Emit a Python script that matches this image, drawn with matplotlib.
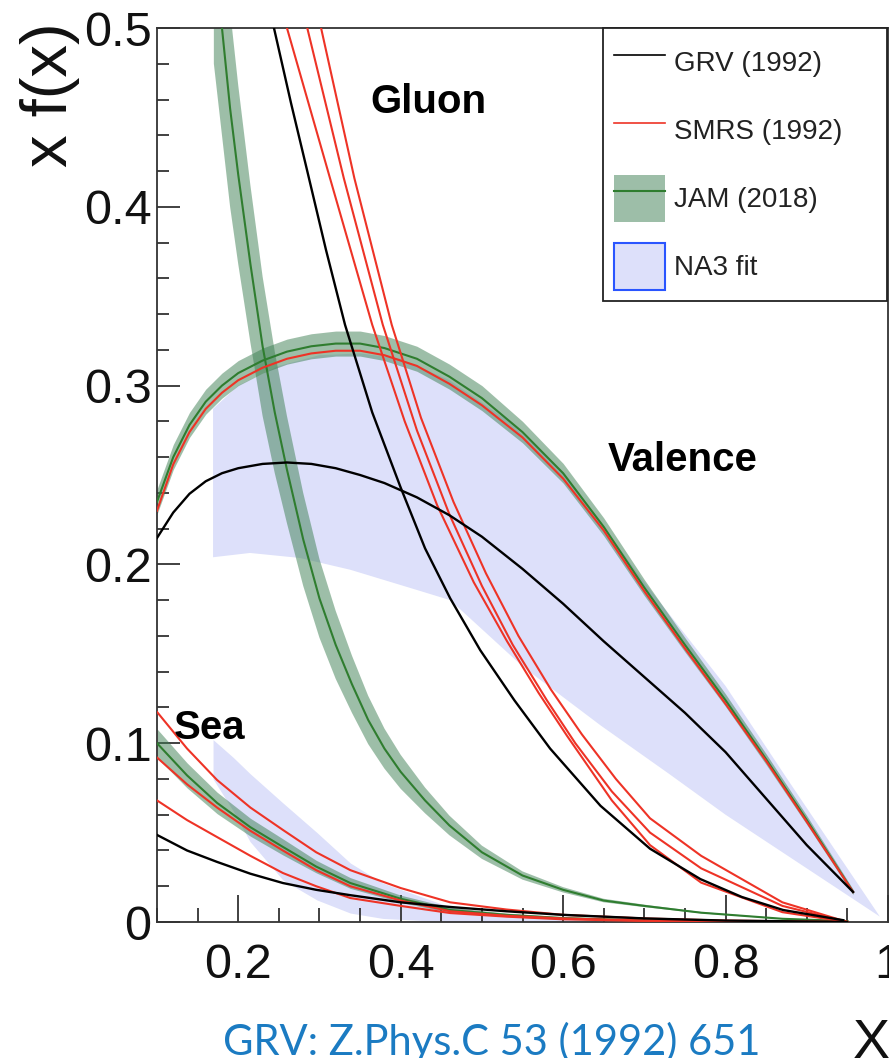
import numpy as np
import matplotlib
matplotlib.use("Agg")
import matplotlib.pyplot as plt
from matplotlib.lines import Line2D
from matplotlib.patches import Patch
from matplotlib.ticker import MultipleLocator, FixedLocator

plt.rcParams["font.family"] = ["Liberation Sans", "DejaVu Sans"]

# ── GRV (1992) ───────────────────────────────────────────────────────────────
grv_glu_x = [0.244, 0.265, 0.285, 0.308, 0.3315, 0.365, 0.400, 0.430, 0.461, 0.498, 0.540, 0.584, 0.646, 0.707, 0.769, 0.820, 0.871, 0.945]
grv_glu_y = [0.500, 0.458, 0.420, 0.376, 0.334, 0.285, 0.243, 0.209, 0.181, 0.152, 0.124, 0.097, 0.065, 0.041, 0.024, 0.014, 0.0067, 0.001]

val_x = [0.10, 0.12, 0.14, 0.16, 0.18, 0.20, 0.23, 0.26, 0.29, 0.32, 0.35, 0.38,
         0.42, 0.46, 0.50, 0.55, 0.60, 0.65, 0.70, 0.75, 0.80, 0.85, 0.90, 0.957]
grv_val_y = [0.2148, 0.229, 0.2395, 0.2465, 0.251, 0.2538, 0.2562, 0.2570, 0.2562, 0.2538, 0.2500, 0.2455,
             0.2375, 0.2275, 0.2155, 0.1975, 0.178, 0.157, 0.137, 0.117, 0.095, 0.069, 0.043, 0.0168]

sea_x = [0.100, 0.137, 0.174, 0.215, 0.255, 0.296, 0.338, 0.400, 0.461, 0.530, 0.600, 0.700, 0.800, 0.950]
grv_sea_y = [0.0487, 0.040, 0.0336, 0.027, 0.0218, 0.018, 0.015, 0.011, 0.0084, 0.006, 0.004, 0.002, 0.0008, 0.0]

# ── SMRS (1992): three gluon sets, valence, three sea sets ───────────────────
smrs_glu1_x = [0.260, 0.313, 0.365, 0.405, 0.445, 0.490, 0.531, 0.570, 0.605, 0.660, 0.707, 0.770, 0.870, 0.950]
smrs_glu1_y = [0.500, 0.416, 0.334, 0.280, 0.233, 0.190, 0.157, 0.128, 0.104, 0.068, 0.043, 0.022, 0.0055, 0.0]
smrs_glu2_x = [0.285, 0.330, 0.378, 0.420, 0.460, 0.500, 0.538, 0.580, 0.615, 0.660, 0.707, 0.770, 0.870, 0.950]
smrs_glu2_y = [0.500, 0.416, 0.334, 0.275, 0.228, 0.188, 0.155, 0.124, 0.100, 0.073, 0.050, 0.030, 0.009, 0.0]
smrs_glu3_x = [0.302, 0.343, 0.389, 0.425, 0.465, 0.505, 0.545, 0.585, 0.623, 0.665, 0.707, 0.770, 0.870, 0.950]
smrs_glu3_y = [0.500, 0.416, 0.334, 0.282, 0.235, 0.195, 0.160, 0.130, 0.105, 0.080, 0.058, 0.037, 0.011, 0.0]

smrs_val_y = [0.230, 0.256, 0.274, 0.287, 0.296, 0.303, 0.310, 0.315, 0.318, 0.3195, 0.3195, 0.317,
              0.311, 0.301, 0.289, 0.271, 0.248, 0.219, 0.185, 0.153, 0.122, 0.090, 0.056, 0.0168]

smrs_sea1_y = [0.1175, 0.097, 0.0794, 0.064, 0.0515, 0.039, 0.029, 0.019, 0.011, 0.007, 0.004, 0.002, 0.0008, 0.0]
smrs_sea2_y = [0.092, 0.077, 0.064, 0.051, 0.040, 0.029, 0.020, 0.012, 0.006, 0.0035, 0.002, 0.0008, 0.0003, 0.0]
smrs_sea3_y = [0.068, 0.057, 0.0475, 0.037, 0.0274, 0.020, 0.0134, 0.009, 0.005, 0.003, 0.0015, 0.0006, 0.0002, 0.0]

# ── JAM (2018): central value and band half-width ────────────────────────────
jam_glu_x = [0.170, 0.180, 0.190, 0.200, 0.215, 0.230, 0.245, 0.260, 0.280, 0.300, 0.320, 0.340, 0.360,
             0.380, 0.400, 0.430, 0.460, 0.500, 0.550, 0.600, 0.650, 0.700, 0.770, 0.870, 0.950]
jam_glu_y = [0.545, 0.500, 0.455, 0.418, 0.368, 0.322, 0.285, 0.253, 0.214, 0.181, 0.155, 0.133, 0.113,
             0.097, 0.084, 0.068, 0.054, 0.039, 0.026, 0.018, 0.012, 0.009, 0.0052, 0.0018, 0.0005]
jam_glu_err = [0.065, 0.060, 0.055, 0.050, 0.044, 0.039, 0.034, 0.030, 0.026, 0.022, 0.019, 0.016, 0.0135,
               0.0112, 0.0095, 0.0072, 0.0055, 0.0037, 0.0023, 0.0015, 0.001, 0.0007, 0.0004, 0.0002, 0.0001]

jam_val_y = [0.235, 0.260, 0.278, 0.291, 0.300, 0.307, 0.314, 0.319, 0.322, 0.3235, 0.3235, 0.321,
             0.315, 0.305, 0.293, 0.274, 0.251, 0.221, 0.187, 0.155, 0.124, 0.091, 0.057, 0.0168]
jam_val_err = [0.007, 0.007, 0.007, 0.007, 0.007, 0.007, 0.007, 0.007, 0.007, 0.007, 0.007, 0.007,
               0.007, 0.007, 0.007, 0.006, 0.0055, 0.005, 0.0045, 0.004, 0.0035, 0.003, 0.0025, 0.0015]

jam_sea_y = [0.100, 0.082, 0.0666, 0.053, 0.042, 0.031, 0.0218, 0.013, 0.0067, 0.0040, 0.0022, 0.0009, 0.0003, 0.0]
jam_sea_err = [0.008, 0.007, 0.006, 0.005, 0.0045, 0.0035, 0.003, 0.002, 0.0015, 0.001, 0.0007, 0.0004, 0.0002, 0.0]

# ── NA3 fit bands ────────────────────────────────────────────────────────────
na3_val_up_x = [0.169, 0.200, 0.250, 0.300, 0.350, 0.400, 0.460, 0.530, 0.600, 0.700, 0.800, 0.876, 0.950, 0.990]
na3_val_up_y = [0.287, 0.300, 0.311, 0.317, 0.318, 0.315, 0.303, 0.281, 0.252, 0.190, 0.132, 0.080, 0.030, 0.003]
na3_val_lo_x = [0.169, 0.2145, 0.276, 0.338, 0.420, 0.461, 0.551, 0.646, 0.730, 0.800, 0.900, 0.990]
na3_val_lo_y = [0.204, 0.2064, 0.2036, 0.197, 0.1857, 0.180, 0.1426, 0.110, 0.083, 0.060, 0.030, 0.003]

na3_sea_x = [0.169, 0.194, 0.2145, 0.255, 0.297, 0.338, 0.378, 0.461, 0.550, 0.650]
na3_sea_up = [0.102, 0.092, 0.083, 0.0666, 0.050, 0.033, 0.0218, 0.0084, 0.003, 0.0005]
na3_sea_lo = [0.080, 0.062, 0.045, 0.0235, 0.0123, 0.005, 0.002, 0.0, 0.0, 0.0]

# ── Styles ───────────────────────────────────────────────────────────────────
C_BLACK = "black"
C_RED = "#ee3326"
C_GREEN = "#2f7d2f"
C_BAND = "#3d7f52"
BAND_ALPHA = 0.5
C_NA3 = "#dde0fa"
C_NA3_EDGE = "#2a55ff"

fig = plt.figure(figsize=(8.89, 10.58), dpi=100)
ax = fig.add_axes([157 / 889, 136 / 1058, 731 / 889, 894 / 1058])

# NA3 bands
ax.fill(np.r_[na3_val_up_x, na3_val_lo_x[::-1]],
        np.r_[na3_val_up_y, na3_val_lo_y[::-1]],
        color=C_NA3, lw=0, zorder=1)
ax.fill_between(na3_sea_x, na3_sea_lo, na3_sea_up, color=C_NA3, lw=0, zorder=1)

# JAM bands
for bx, by, be in [(jam_glu_x, jam_glu_y, jam_glu_err),
                   (val_x, jam_val_y, jam_val_err),
                   (sea_x, jam_sea_y, jam_sea_err)]:
    by, be = np.asarray(by), np.asarray(be)
    ax.fill_between(bx, by - be, by + be, color=C_BAND, alpha=BAND_ALPHA, lw=0, zorder=2)

# central lines
lw = 1.5
for lx, ly in [(jam_glu_x, jam_glu_y), (val_x, jam_val_y), (sea_x, jam_sea_y)]:
    ax.plot(lx, ly, color=C_GREEN, lw=lw, zorder=3)
for lx, ly in [(smrs_glu1_x, smrs_glu1_y), (smrs_glu2_x, smrs_glu2_y),
               (smrs_glu3_x, smrs_glu3_y), (val_x, smrs_val_y),
               (sea_x, smrs_sea1_y), (sea_x, smrs_sea2_y), (sea_x, smrs_sea3_y)]:
    ax.plot(lx, ly, color=C_RED, lw=lw, zorder=4)
for lx, ly in [(grv_glu_x, grv_glu_y), (val_x, grv_val_y), (sea_x, grv_sea_y)]:
    ax.plot(lx, ly, color=C_BLACK, lw=1.7, zorder=5)

# labels on the curves
lab_kw = dict(fontsize=29, fontweight="bold", ha="center", va="center", zorder=6)
ax.text(0.434, 0.4586, "Gluon", **lab_kw)
ax.text(0.7466, 0.2584, "Valence", **lab_kw)
ax.text(0.165, 0.1085, "Sea", **lab_kw)

# axes
ax.set_xlim(0.1, 1.0)
ax.set_ylim(0, 0.5)
ax.xaxis.set_major_locator(FixedLocator([0.2, 0.4, 0.6, 0.8, 1.0]))
ax.set_xticklabels(["0.2", "0.4", "0.6", "0.8", "1"])
ax.xaxis.set_minor_locator(MultipleLocator(0.05))
ax.yaxis.set_major_locator(FixedLocator([0, 0.1, 0.2, 0.3, 0.4, 0.5]))
ax.set_yticklabels(["0", "0.1", "0.2", "0.3", "0.4", "0.5"])
ax.yaxis.set_minor_locator(MultipleLocator(0.02))
ax.tick_params(axis="both", which="both", direction="in", color="#333333",
               width=1.3, top=False, right=False, labelsize=35, labelcolor="#111111")
ax.tick_params(axis="x", which="major", length=19.5, pad=15)
ax.tick_params(axis="x", which="minor", length=10)
ax.tick_params(axis="y", which="major", length=16.5, pad=4)
ax.tick_params(axis="y", which="minor", length=8.6)
for sp in ax.spines.values():
    sp.set_color("#333333")
    sp.set_linewidth(1.3)

fig.text(50 / 889, 1 - 22 / 1058, "x f(x)", rotation=90, ha="center", va="top",
         fontsize=47, color="#111111")
fig.text(853 / 889, 1 - 1018 / 1058, "X", ha="left", va="top", fontsize=40,
         color="#111111")
fig.text(492 / 889, 3 / 1058, "GRV: Z.Phys.C 53 (1992) 651", ha="center",
         va="baseline", fontsize=30, color="#1b7bc2", family=["Lato", "DejaVu Sans"])

# legend
handles = [
    Line2D([], [], color=C_BLACK, lw=1.2),
    Line2D([], [], color=C_RED, lw=1.2),
    (Patch(facecolor=C_BAND, alpha=BAND_ALPHA, lw=0), Line2D([], [], color=C_GREEN, lw=1.5)),
    Patch(facecolor=C_NA3, edgecolor=C_NA3_EDGE, lw=1.5),
]
labels = ["GRV (1992)", "SMRS (1992)", "JAM (2018)", "NA3 fit"]
leg = ax.legend(handles, labels, loc="upper right",
                bbox_to_anchor=(446 / 731, 0.0, 284 / 731, 1.0), mode="expand",
                borderaxespad=0, fontsize=20, handlelength=1.83, handleheight=2.24,
                handletextpad=0.32, labelspacing=0.74, borderpad=0.4,
                fancybox=False, framealpha=1, edgecolor="#222222")
leg.get_frame().set_linewidth(1.3)
for t in leg.get_texts():
    t.set_color("#222222")

plt.savefig("out.png", dpi=100)
